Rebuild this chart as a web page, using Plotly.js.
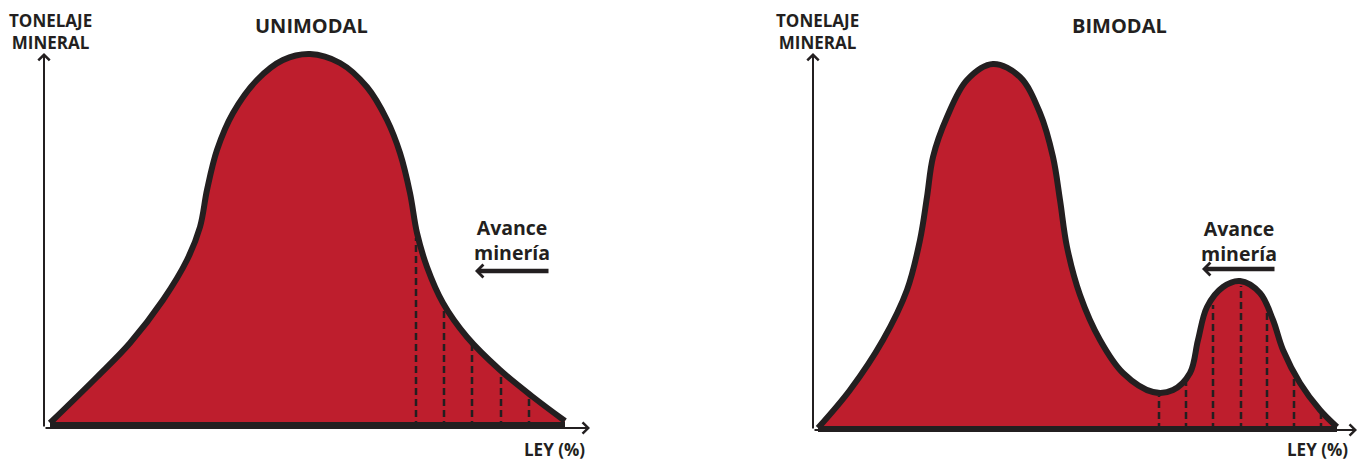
<!DOCTYPE html>
<html>
<head>
<meta charset="utf-8">
<script src="https://cdn.plot.ly/plotly-3.0.1.min.js"></script>
<style>html,body{margin:0;padding:0;background:#fff;}#chart{width:1359px;height:461px;}</style>
</head>
<body>
<div id="chart"></div>
<script>
// ---- Data (arbitrary units: grade on x, tonnage on y) ----
const uniX = [6,53,86,119,143,156,163,173,189,213,239,266,296,323,343,356,366,373,383,399,423,456,489,521];
const uniY = [5,51,85,128,168,201,238,278,315,348,368,374,365,341,308,275,235,195,161,125,91,58,31,7];
const uniCutX = [372,400,428,457,485];
const uniCutY = [190,120,83,52,29];

const biX = [5,37,70,94,107,114,120,134,154,180,207,227,240,247,254,267,287,310,340,360,377,385,394,410,427,447,460,470,487,507,524];
const biY = [2,40,90,140,190,233,273,313,350,366,353,317,273,230,183,135,90,57,38,40,57,90,123,143,149,137,110,80,47,20,3];
const biCutX = [346,373,400,428,454,481,508];
const biCutY = [34,48,125,144,118,52,16];

const titles = ['UNIMODAL','BIMODAL'];
const yLabel = 'TONELAJE<br>MINERAL';
const xLabel = 'LEY (%)';
const arrowLabel = 'Avance<br>minería';

// ---- Styles ----
const RED = '#BE1E2D';
const INK = '#231F20';
const W = 1359, H = 461;
const FONT = 'Open Sans, Noto Sans, sans-serif';

function cuts(xs, ys){
  const X=[],Y=[];
  xs.forEach((x,i)=>{X.push(x,x,null);Y.push(0,ys[i],null);});
  return {X,Y};
}
const uc = cuts(uniCutX, uniCutY);
const bc = cuts(biCutX, biCutY);
const DASH = {color:INK,width:2.5,dash:'7px,4px'};

const traces = [
  // unimodal
  {x:uniX,y:uniY,type:'scatter',mode:'lines',fill:'tozeroy',fillcolor:RED,
   line:{width:0,shape:'spline',smoothing:1,color:RED},hoverinfo:'skip',xaxis:'x',yaxis:'y'},
  {x:uc.X,y:uc.Y,type:'scatter',mode:'lines',line:DASH,hoverinfo:'skip',xaxis:'x',yaxis:'y'},
  {x:uniX,y:uniY,type:'scatter',mode:'lines',line:{color:INK,width:6,shape:'spline',smoothing:1},hoverinfo:'skip',xaxis:'x',yaxis:'y'},
  {x:[uniX[0],uniX[uniX.length-1]],y:[3,3],type:'scatter',mode:'lines',line:{color:INK,width:6},hoverinfo:'skip',xaxis:'x',yaxis:'y'},
  // bimodal
  {x:biX,y:biY,type:'scatter',mode:'lines',fill:'tozeroy',fillcolor:RED,
   line:{width:0,shape:'spline',smoothing:1,color:RED},hoverinfo:'skip',xaxis:'x2',yaxis:'y2'},
  {x:bc.X,y:bc.Y,type:'scatter',mode:'lines',line:DASH,hoverinfo:'skip',xaxis:'x2',yaxis:'y2'},
  {x:biX,y:biY,type:'scatter',mode:'lines',line:{color:INK,width:6,shape:'spline',smoothing:1},hoverinfo:'skip',xaxis:'x2',yaxis:'y2'},
  {x:[biX[0],biX[biX.length-1]],y:[1,1],type:'scatter',mode:'lines',line:{color:INK,width:6},hoverinfo:'skip',xaxis:'x2',yaxis:'y2'}
];

const hidden = {visible:false,showgrid:false,zeroline:false,fixedrange:true};
function px(x){return x/W;}
function py(y){return 1-y/H;}
function txt(text,x,y,size){
  return {text:text,xref:'paper',yref:'paper',x:px(x),y:py(y),xanchor:'center',yanchor:'middle',
    showarrow:false,align:'center',borderpad:0,font:{family:FONT,size:size,color:INK,weight:700}};
}
function arr(xr,yr,x0,y0,x1,y1,w,s){
  return {text:'',xref:xr,yref:yr,axref:xr,ayref:yr,x:x1,y:y1,ax:x0,ay:y0,showarrow:true,
    arrowhead:4,arrowwidth:w,arrowsize:s,arrowcolor:INK,standoff:0};
}

const annotations = [
  txt(titles[0],311,25,20), txt(titles[1],1119,25,20),
  txt(yLabel,50,32,17), txt(yLabel,817,32,17),
  txt(xLabel,554,449,17), txt(xLabel,1317,449,17),
  txt(arrowLabel,512,240,19.5), txt(arrowLabel,1239,241,19.5),
  arr('x','y',0,0,0,375,2,1.1), arr('x','y',0,0,546,0,2,1.1),
  arr('x2','y2',0,0,0,377,2,1.1), arr('x2','y2',0,0,544,0,2,1.1),
  arr('x','y',506,157,431,157,4.5,0.55), arr('x2','y2',463,161,389,161,4.5,0.55)
];

const layout = {
  width:W,height:H,margin:{l:0,r:0,t:0,b:0},paper_bgcolor:'#fff',plot_bgcolor:'rgba(0,0,0,0)',
  showlegend:false,
  xaxis:Object.assign({domain:[34/W,600/W],range:[-10,556]},hidden),
  yaxis:Object.assign({domain:[23/H,1],range:[-10,428]},hidden),
  xaxis2:Object.assign({domain:[803/W,1],range:[-10,546],anchor:'y2'},hidden),
  yaxis2:Object.assign({domain:[21/H,1],range:[-10,430],anchor:'x2'},hidden),
  annotations:annotations
};
Plotly.newPlot('chart',traces,layout,{staticPlot:true,displayModeBar:false});
</script>
</body>
</html>
